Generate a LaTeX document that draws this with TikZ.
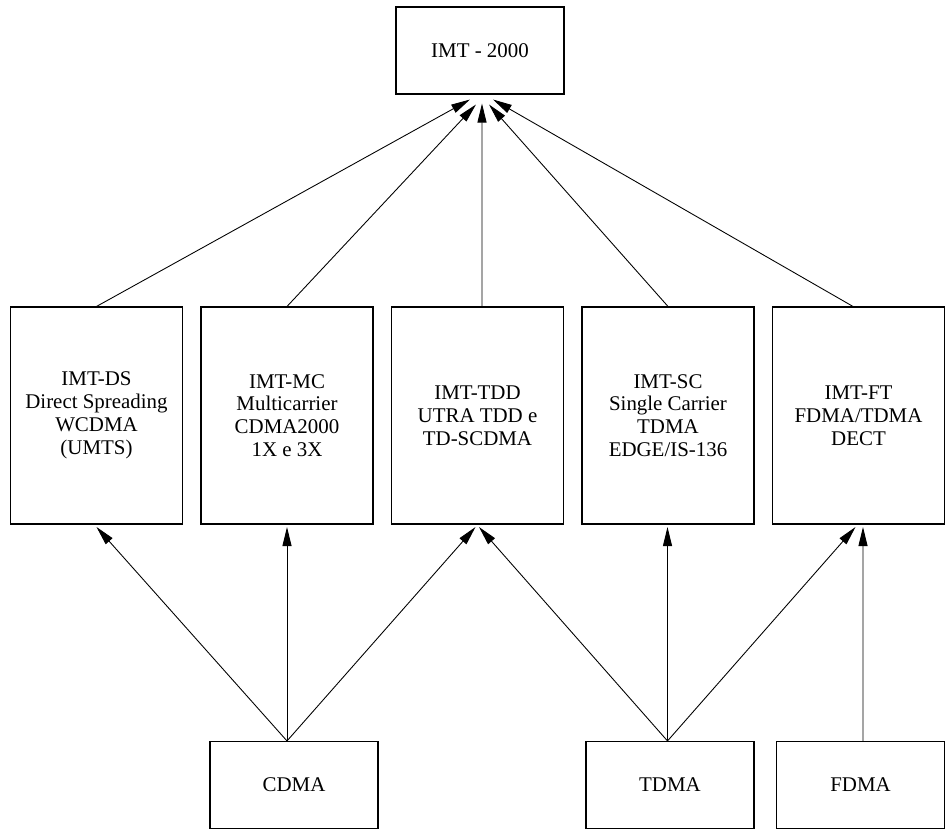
\documentclass[tikz,border=0pt]{standalone}
\usepackage{fontspec}
\setmainfont{Liberation Serif}
\usetikzlibrary{arrows.meta, positioning, calc}

\begin{document}
\begin{tikzpicture}[
  box/.style={rectangle, draw=black, fill=white, line width=0.6pt, minimum width=3.36cm, minimum height=1.74cm, inner sep=0pt, align=center, font=\fontsize{11.9}{13}\selectfont},
  tall box/.style={box, minimum width=3.44cm, minimum height=4.34cm},
  link/.style={-{Triangle[length=0.38cm, width=0.18cm]}, line width=0.5pt},
]
  \useasboundingbox (0,0) rectangle (18.96,16.64);

  % IMT-2000
  \node[box] (imt) at (9.6, 15.63) {IMT - 2000};

  % Radio interfaces
  \node[tall box] (ds) at (1.93, 8.33) {IMT-DS\\Direct Spreading\\WCDMA\\(UMTS)};
  \node[tall box] (mc) at (5.74, 8.33) {IMT-MC\\Multicarrier\\CDMA2000\\1X e 3X};
  \node[tall box] (tdd) at (9.55, 8.33) {IMT-TDD\\UTRA TDD e\\TD-SCDMA};
  \node[tall box] (sc) at (13.36, 8.33) {IMT-SC\\Single Carrier\\TDMA\\EDGE/IS-136};
  \node[tall box] (ft) at (17.17, 8.33) {IMT-FT\\FDMA/TDMA\\DECT};

  % Access methods
  \node[box] (cdma) at (5.88, 0.94) {CDMA};
  \node[box] (tdma) at (13.40, 0.94) {TDMA};
  \node[box] (fdma) at (17.21, 0.94) {FDMA};

  % Arrow ends under IMT-2000
  \coordinate (in1) at ($(imt.south)+(-0.20,-0.10)$);
  \coordinate (in2) at ($(imt.south)+(-0.08,-0.20)$);
  \coordinate (in3) at ($(imt.south)+(0.04,-0.18)$);
  \coordinate (in4) at ($(imt.south)+(0.18,-0.20)$);
  \coordinate (in5) at ($(imt.south)+(0.26,-0.10)$);

  % Arrows up to IMT-2000
  \draw[link] (ds.north) -- (in1);
  \draw[link] (mc.north) -- (in2);
  \draw[link] ([xshift=0.09cm]tdd.north) -- (in3);
  \draw[link] (sc.north) -- (in4);
  \draw[link] ([xshift=-0.11cm]ft.north) -- (in5);

  % Arrows from CDMA
  \draw[link] ([xshift=-0.14cm]cdma.north) -- ([yshift=-0.05cm]ds.south);
  \draw[link] ([xshift=-0.14cm]cdma.north) -- ([yshift=-0.05cm]mc.south);
  \draw[link] ([xshift=-0.14cm]cdma.north) -- ([xshift=-0.04cm, yshift=-0.05cm]tdd.south);

  % Arrows from TDMA
  \draw[link] ([xshift=-0.05cm]tdma.north) -- ([xshift=0.03cm, yshift=-0.05cm]tdd.south);
  \draw[link] ([xshift=-0.05cm]tdma.north) -- ([xshift=-0.01cm, yshift=-0.05cm]sc.south);
  \draw[link] ([xshift=-0.05cm]tdma.north) -- ([xshift=-0.06cm, yshift=-0.05cm]ft.south);

  % Arrow from FDMA
  \draw[link] ([xshift=0.05cm]fdma.north) -- ([xshift=0.09cm, yshift=-0.05cm]ft.south);

\end{tikzpicture}
\end{document}
